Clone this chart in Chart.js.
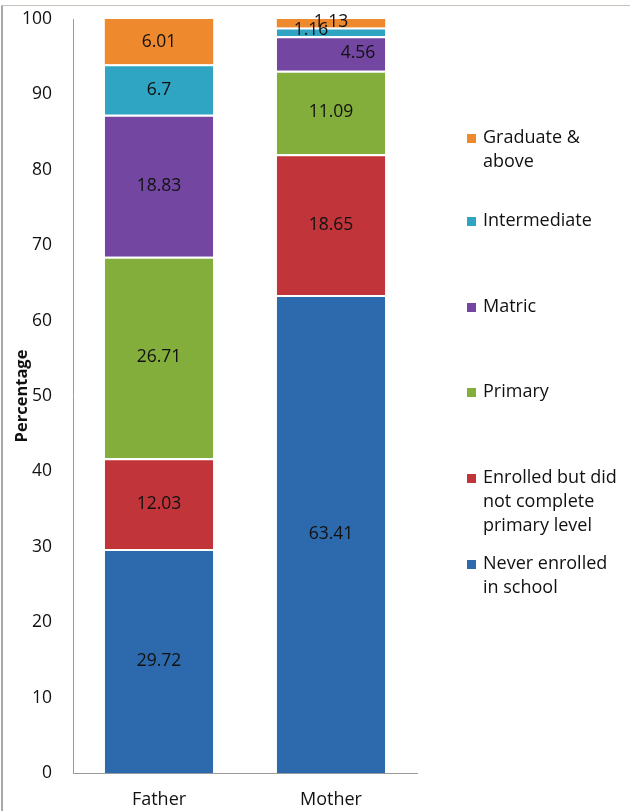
<!DOCTYPE html>
<html>
<head>
<meta charset="utf-8">
<script src="https://cdn.jsdelivr.net/npm/chart.js@4/dist/chart.umd.min.js"></script>
<style>
  html, body { margin: 0; padding: 0; background: #fff; }
  #wrap { position: relative; width: 630px; height: 811px; }
  #frameLeft { position: absolute; left: 1px; top: 5px; width: 2px; height: 806px; background: #a8a8a8; }
  #frameTop { position: absolute; left: 1px; top: 5px; width: 629px; height: 1px; background: #c9c2bc; }
  canvas { position: absolute; left: 0; top: 0; }
</style>
</head>
<body>
<div id="wrap">
  <canvas id="chart" width="630" height="811"></canvas>
  <div id="frameLeft"></div>
  <div id="frameTop"></div>
</div>
<script>
// Parents' education levels (percentage)
const categories = ['Father', 'Mother'];

const neverEnrolled   = [29.72, 63.41];
const enrolledNoPrim  = [12.03, 18.65];
const primary         = [26.71, 11.09];
const matric          = [18.83, 4.56];
const intermediate    = [6.7, 1.16];
const graduate        = [6.01, 1.13];

const seriesNames = [
  'Never enrolled in school',
  'Enrolled but did not complete primary level',
  'Primary',
  'Matric',
  'Intermediate',
  'Graduate & above'
];
const yTicks = [0, 10, 20, 30, 40, 50, 60, 70, 80, 90, 100];

const colors = ['#2c6aad', '#c0343a', '#84ae3c', '#7346a2', '#30a4c3', '#ee8a2d'];
const FONT = '"Open Sans", "DejaVu Sans", sans-serif';
const TEXT = '#111111';

const seriesValues = [neverEnrolled, enrolledNoPrim, primary, matric, intermediate, graduate];

// Legend entries (top to bottom), with wrapped lines and vertical line centres
const legendEntries = [
  { ds: 5, lines: ['Graduate &', 'above'], y: 138 },
  { ds: 4, lines: ['Intermediate'], y: 221 },
  { ds: 3, lines: ['Matric'], y: 307 },
  { ds: 2, lines: ['Primary'], y: 392 },
  { ds: 1, lines: ['Enrolled but did', 'not complete', 'primary level'], y: 478 },
  { ds: 0, lines: ['Never enrolled', 'in school'], y: 564 }
];

// Label nudges for the thin segments at the top of the Mother bar
const labelShift = {
  '1-3': { dx: 27, dy: 0 },
  '1-4': { dx: -20, dy: -2 },
  '1-5': { dx: 0, dy: -1 }
};

const valueLabels = {
  id: 'valueLabels',
  afterDatasetsDraw(chart) {
    const ctx = chart.ctx;
    ctx.save();
    ctx.font = '17.5px ' + FONT;
    ctx.fillStyle = TEXT;
    ctx.textAlign = 'center';
    ctx.textBaseline = 'middle';
    chart.data.datasets.forEach((ds, di) => {
      const meta = chart.getDatasetMeta(di);
      meta.data.forEach((bar, i) => {
        const s = labelShift[i + '-' + di] || { dx: 0, dy: 0 };
        const cy = (bar.y + bar.base) / 2;
        ctx.fillText(String(ds.data[i]), bar.x + s.dx, cy + s.dy);
      });
    });
    ctx.restore();
  }
};

const sideLegend = {
  id: 'sideLegend',
  afterDraw(chart) {
    const ctx = chart.ctx;
    ctx.save();
    ctx.font = '18px ' + FONT;
    ctx.textAlign = 'left';
    ctx.textBaseline = 'middle';
    legendEntries.forEach(e => {
      ctx.fillStyle = chart.data.datasets[e.ds].backgroundColor;
      ctx.fillRect(467, e.y - 4, 9, 9);
      ctx.fillStyle = TEXT;
      e.lines.forEach((line, k) => ctx.fillText(line, 483, e.y + k * 24));
    });
    ctx.restore();
  }
};

new Chart(document.getElementById('chart'), {
  type: 'bar',
  data: {
    labels: categories,
    datasets: seriesValues.map((vals, i) => ({
      label: seriesNames[i],
      data: vals,
      backgroundColor: colors[i],
      borderColor: '#ffffff',
      borderWidth: i === 5 ? 0 : { top: 2, bottom: 0, left: 0, right: 0 },
      borderSkipped: false,
      barPercentage: 0.63,
      categoryPercentage: 1.0
    }))
  },
  options: {
    responsive: false,
    animation: false,
    devicePixelRatio: 1,
    layout: { padding: { top: 19, right: 213, left: 0, bottom: 0 } },
    plugins: {
      legend: { display: false },
      tooltip: { enabled: false }
    },
    scales: {
      x: {
        stacked: true,
        grid: { display: false, drawTicks: false },
        border: { display: true, color: '#9a9a9a', width: 1 },
        ticks: { color: TEXT, font: { family: FONT, size: 18 }, padding: 16 },
        afterFit(scale) { scale.height = 38; }
      },
      y: {
        stacked: true,
        min: 0,
        max: 100,
        afterBuildTicks(scale) { scale.ticks = yTicks.map(v => ({ value: v })); },
        grid: { display: false, drawTicks: false },
        border: { display: true, color: '#9a9a9a', width: 1 },
        ticks: { color: TEXT, font: { family: FONT, size: 17.5 }, padding: 21 },
        title: {
          display: true,
          text: 'Percentage',
          color: TEXT,
          font: { family: FONT, size: 16.5, weight: 'bold' },
          padding: { top: 12, bottom: 0 }
        },
        afterFit(scale) {
          scale.width = 73;
          scale.paddingTop = 0;
          scale.paddingBottom = 0;
        }
      }
    }
  },
  plugins: [valueLabels, sideLegend]
});
</script>
</body>
</html>
